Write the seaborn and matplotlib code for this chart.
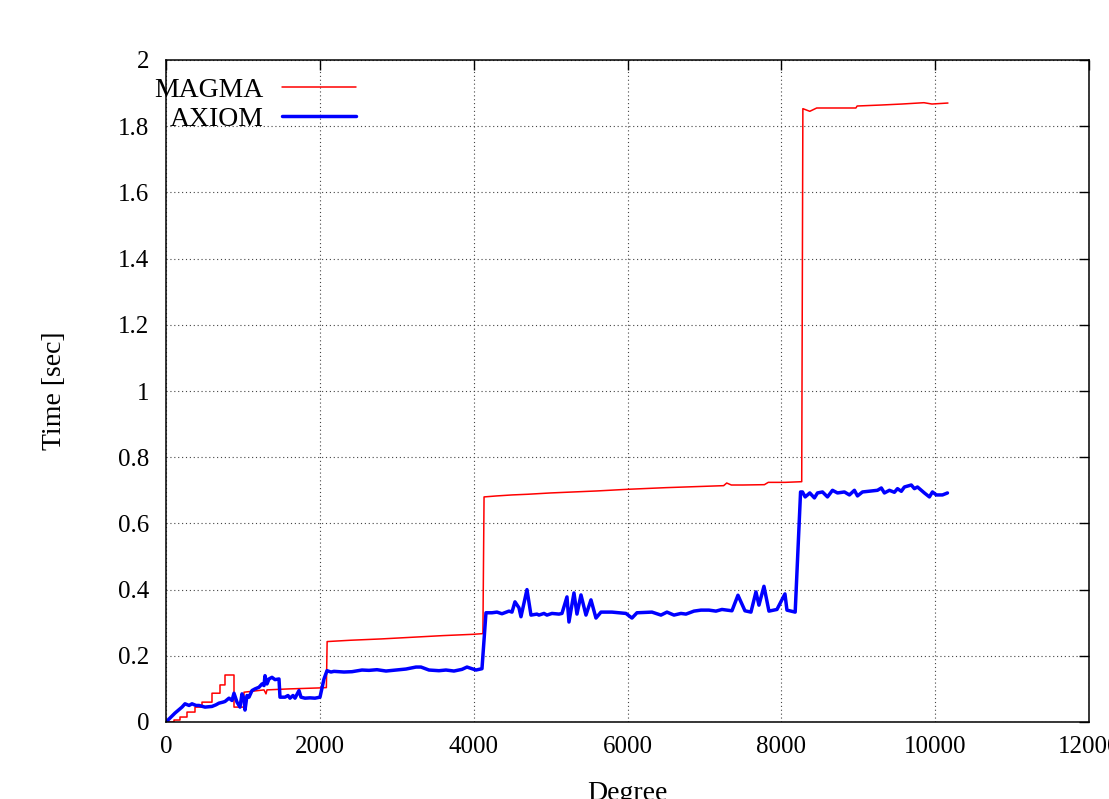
import matplotlib
matplotlib.use("Agg")
import matplotlib.pyplot as plt
import seaborn as sns
import pandas as pd
from matplotlib.ticker import FormatStrFormatter

# ---------------- data ----------------
magma_deg = [0, 104, 104, 182, 182, 273, 273, 377, 377, 468, 468, 598, 598,
             702, 702, 767, 767, 884, 884, 1014, 1014, 1274, 1300, 1313, 1600,
             2000, 2085, 2095, 2400, 2800, 3200, 3600, 4000, 4120, 4135,
             4300, 4500, 4700, 5000, 5300, 5600, 6000, 6500, 7000, 7250, 7290,
             7350, 7500, 7780, 7830, 8050, 8265, 8280,
             8370, 8460, 8970, 8985, 9300, 9568, 9854, 9958, 10166]
magma_time = [0.0, 0.0, 0.006, 0.006, 0.015, 0.015, 0.03, 0.03, 0.045, 0.045, 0.06, 0.06, 0.087,
              0.087, 0.112, 0.112, 0.142, 0.142, 0.045, 0.045, 0.09, 0.097, 0.085, 0.097, 0.1,
              0.103, 0.104, 0.243, 0.247, 0.251, 0.256, 0.261, 0.265, 0.267, 0.68,
              0.683, 0.686, 0.688, 0.692, 0.695, 0.698, 0.703, 0.708, 0.712, 0.714, 0.722,
              0.716, 0.716, 0.717, 0.724, 0.724, 0.726, 1.853,
              1.845, 1.855, 1.855, 1.861, 1.864, 1.867, 1.871, 1.867, 1.870]

axiom_deg = [0, 117, 208, 247, 300, 338, 390, 429, 507, 598, 650, 689, 741, 767,
             819, 858, 884, 923, 962, 988, 1014, 1027, 1053, 1079, 1118, 1157,
             1209, 1248, 1274, 1287, 1313, 1339, 1378, 1417, 1469, 1482, 1547,
             1586, 1612, 1651, 1677, 1729, 1755, 1807, 1872, 1937, 2002, 2054,
             2093, 2145, 2184, 2314, 2418, 2548, 2639, 2743, 2860, 2990, 3120,
             3250, 3315, 3419, 3549, 3640, 3744, 3848, 3913, 3978, 4030, 4108,
             4160, 4238, 4303, 4368, 4459, 4498, 4537, 4589, 4615, 4693, 4745,
             4823, 4849, 4914, 4953, 5018, 5109, 5148, 5213, 5239, 5304, 5343,
             5395, 5460, 5525, 5590, 5655, 5798, 5980, 6058, 6123, 6318, 6435,
             6513, 6604, 6695, 6760, 6864, 6955, 7059, 7150, 7228, 7358, 7436,
             7527, 7605, 7670, 7709, 7774, 7839, 7943, 8047, 8073, 8180, 8250,
             8275, 8310, 8370, 8430, 8470, 8535, 8600, 8665, 8730, 8820, 8885,
             8950, 8990, 9055, 9170, 9250, 9300, 9340, 9405, 9470, 9510, 9560,
             9600, 9690, 9730, 9770, 9860, 9925, 9965, 10015, 10095, 10160]
axiom_time = [0.0, 0.027, 0.045, 0.055, 0.05, 0.055, 0.05, 0.05, 0.045, 0.047, 0.052, 0.057, 0.06, 0.062,
              0.072, 0.065, 0.087, 0.06, 0.045, 0.085, 0.07, 0.036, 0.08, 0.075, 0.095, 0.1,
              0.105, 0.115, 0.11, 0.14, 0.115, 0.13, 0.135, 0.128, 0.13, 0.075, 0.075,
              0.08, 0.072, 0.08, 0.072, 0.095, 0.075, 0.072, 0.073, 0.072, 0.075, 0.13,
              0.155, 0.151, 0.153, 0.151, 0.152, 0.157, 0.156, 0.158, 0.154, 0.157, 0.16,
              0.166, 0.166, 0.157, 0.155, 0.157, 0.154, 0.159, 0.166, 0.161, 0.157, 0.161,
              0.33, 0.33, 0.332, 0.327, 0.335, 0.332, 0.363, 0.345, 0.318, 0.4, 0.323,
              0.326, 0.323, 0.328, 0.323, 0.328, 0.326, 0.328, 0.378, 0.302, 0.39, 0.326,
              0.384, 0.323, 0.369, 0.314, 0.332, 0.332, 0.328, 0.314, 0.33, 0.332, 0.323,
              0.332, 0.323, 0.328, 0.326, 0.335, 0.338, 0.338, 0.335, 0.34, 0.336, 0.383,
              0.336, 0.332, 0.393, 0.353, 0.41, 0.335, 0.34, 0.387, 0.338, 0.332, 0.695,
              0.695, 0.68, 0.692, 0.677, 0.692, 0.695, 0.68, 0.7, 0.692, 0.695, 0.686,
              0.7, 0.683, 0.695, 0.698, 0.7, 0.707, 0.692, 0.7, 0.694, 0.705, 0.697,
              0.71, 0.716, 0.705, 0.71, 0.692, 0.68, 0.695, 0.686, 0.686, 0.692]

x_ticks = [0, 2000, 4000, 6000, 8000, 10000, 12000]
y_ticks = [0, 0.2, 0.4, 0.6, 0.8, 1.0, 1.2, 1.4, 1.6, 1.8, 2.0]

# ---------------- plot ----------------
sns.set_style("white")
plt.rcParams['font.family'] = ['Liberation Serif', 'DejaVu Serif']
plt.rcParams['text.color'] = 'black'
plt.rcParams['axes.labelcolor'] = 'black'
plt.rcParams['xtick.color'] = 'black'
plt.rcParams['ytick.color'] = 'black'

W, H = 1109, 799
fig = plt.figure(figsize=(W / 100, H / 100), dpi=100)
left, right, top, bottom = 166, 1089, 60, 722
ax = fig.add_axes([left / W, 1 - bottom / H, (right - left) / W, (bottom - top) / H])

df_m = pd.DataFrame({"deg": magma_deg, "time": magma_time})
df_a = pd.DataFrame({"deg": axiom_deg, "time": axiom_time})

sns.lineplot(data=df_m, x="deg", y="time", ax=ax, color="#ff0000", lw=1.1,
             estimator=None, sort=False, label="MAGMA")
sns.lineplot(data=df_a, x="deg", y="time", ax=ax, color="#0000ff", lw=2.5,
             estimator=None, sort=False, label="AXIOM")

ax.set_xlim(0, 12000)
ax.set_ylim(0, 2)
ax.set_xticks(x_ticks)
ax.set_yticks(y_ticks)
ax.yaxis.set_major_formatter(FormatStrFormatter('%g'))
ax.xaxis.set_major_formatter(FormatStrFormatter('%g'))

ax.grid(True, which='major', color='#444444', linestyle=(0, (1, 2.5)), linewidth=0.8)
for s in ax.spines.values():
    s.set_color('black')
    s.set_linewidth(1.1)
    s.set_visible(True)

ax.tick_params(axis='both', which='major', direction='in', length=7, width=1.0,
               top=True, right=True, labelsize=18, colors='black')
ax.tick_params(axis='y', pad=12)
ax.tick_params(axis='x', pad=10)

ax.set_xlabel("Degree", fontsize=20, labelpad=17, color='black')
ax.set_ylabel("Time [sec]", fontsize=20, labelpad=37, color='black')

leg = ax.legend(loc='upper right', bbox_to_anchor=(0.2115, 0.982), frameon=False,
                markerfirst=False, fontsize=20, handlelength=2.66, handletextpad=0.65,
                labelspacing=0.12, borderpad=0.2, borderaxespad=0.0)
for t in leg.get_texts():
    t.set_color('black')

fig.savefig("out.png", dpi=100)
